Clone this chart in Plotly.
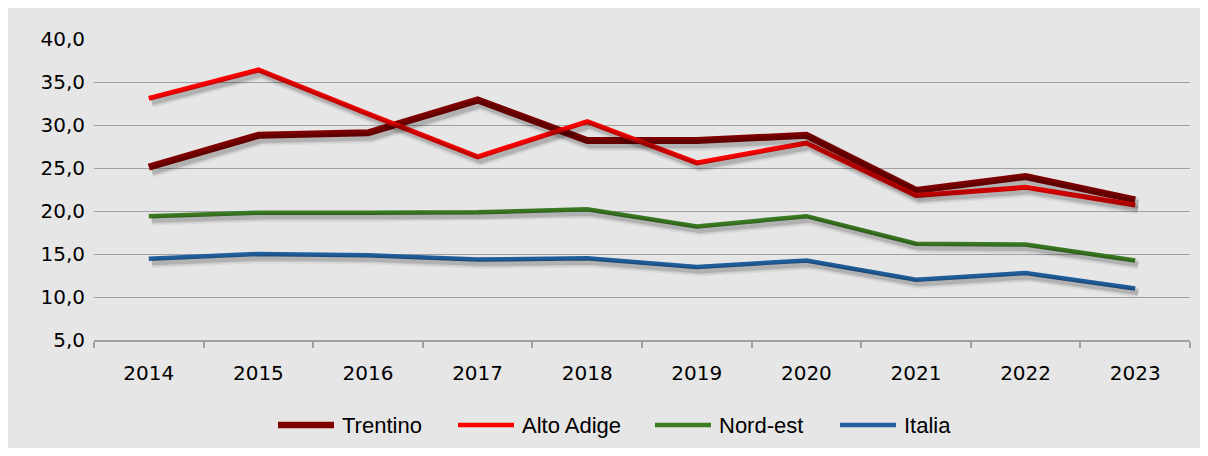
import plotly.graph_objects as go

years = ["2014", "2015", "2016", "2017", "2018", "2019", "2020", "2021", "2022", "2023"]
trentino = [25.1, 28.8, 29.1, 32.9, 28.2, 28.2, 28.8, 22.4, 24.0, 21.3]
alto_adige = [33.1, 36.4, 31.3, 26.3, 30.4, 25.6, 27.9, 21.8, 22.75, 20.7]
nord_est = [19.4, 19.8, 19.8, 19.85, 20.2, 18.2, 19.4, 16.2, 16.1, 14.25]
italia = [14.45, 15.0, 14.85, 14.35, 14.5, 13.5, 14.25, 12.0, 12.8, 11.0]

series = [
    ("Trentino", trentino, "#800000", 7),
    ("Alto Adige", alto_adige, "#ff0000", 5),
    ("Nord-est", nord_est, "#3b7d23", 4.5),
    ("Italia", italia, "#2261a0", 4.5),
]

W, H = 1192, 440
ML, MR, MT, MB = 86, 10, 31, 108
YMIN, YMAX = 5, 40
plot_w = W - ML - MR
plot_h = H - MT - MB
px_per_cat = plot_w / len(years)
px_per_unit = plot_h / (YMAX - YMIN)
# drop shadow offset (pixels -> data units)
sdx = 3 / px_per_cat
sdy = -4 / px_per_unit

fig = go.Figure()
idx = list(range(len(years)))

# shadows (rendered on overlaying numeric axis)
for name, vals, color, w in series:
    for extra, alpha in [(6, 0.05), (3, 0.07), (0.5, 0.12)]:
        fig.add_trace(go.Scatter(
            x=[i + sdx for i in idx], y=[v + sdy for v in vals],
            xaxis="x2", mode="lines", showlegend=False, hoverinfo="skip",
            line=dict(color=f"rgba(0,0,0,{alpha})", width=w + extra),
        ))

for name, vals, color, w in series:
    fig.add_trace(go.Scatter(
        x=years, y=vals, name=name, mode="lines", showlegend=False,
        line=dict(color=color, width=w),
    ))

# legend drawn as shapes + text (long line keys like the original)
legend_x_px = [270, 450, 647, 832]   # left edge of each key line, figure pixels
legend_y_px = 417
key_len = 56
key_w = [6.5, 4.5, 4.5, 4.5]
ly = (H - MB - legend_y_px) / plot_h
for (name, vals, color, w), lx, kw in zip(series, legend_x_px, key_w):
    x0 = (lx - ML) / plot_w
    x1 = (lx + key_len - ML) / plot_w
    fig.add_shape(type="line", xref="paper", yref="paper", x0=x0, x1=x1, y0=ly, y1=ly,
                  line=dict(color=color, width=kw))
    fig.add_annotation(xref="paper", yref="paper", x=(lx + key_len + 6 - ML) / plot_w, y=ly,
                       xanchor="left", yanchor="middle", text=name, showarrow=False,
                       font=dict(family="Liberation Sans, Arial, sans-serif", size=22, color="#000000"))

fig.update_layout(
    width=W, height=H,
    margin=dict(l=ML, r=MR, t=MT, b=MB, pad=0),
    paper_bgcolor="#e7e6e6", plot_bgcolor="#e7e6e6",
    separators=",.",
    font=dict(family="DejaVu Sans, Arial, sans-serif", size=20, color="#000000"),
    showlegend=False,
    xaxis=dict(
        type="category", range=[-0.5, len(years) - 0.5], tickson="boundaries",
        ticks="outside", ticklen=6,
        tickcolor="#a0a0a0", tickwidth=1.5, showline=True, linecolor="#a0a0a0", linewidth=1.5,
        showgrid=False, zeroline=False, ticklabelstandoff=14,
        tickfont=dict(size=20),
    ),
    xaxis2=dict(overlaying="x", range=[-0.5, len(years) - 0.5], visible=False),
    yaxis=dict(
        range=[YMIN, YMAX], dtick=5, tick0=0, tickformat=".1f",
        showgrid=True, gridcolor="#a0a0a0", gridwidth=1.2, zeroline=False,
        showline=False, ticks="", ticklabelstandoff=8, tickfont=dict(size=20),
    ),
)

fig.write_html("out.html")
